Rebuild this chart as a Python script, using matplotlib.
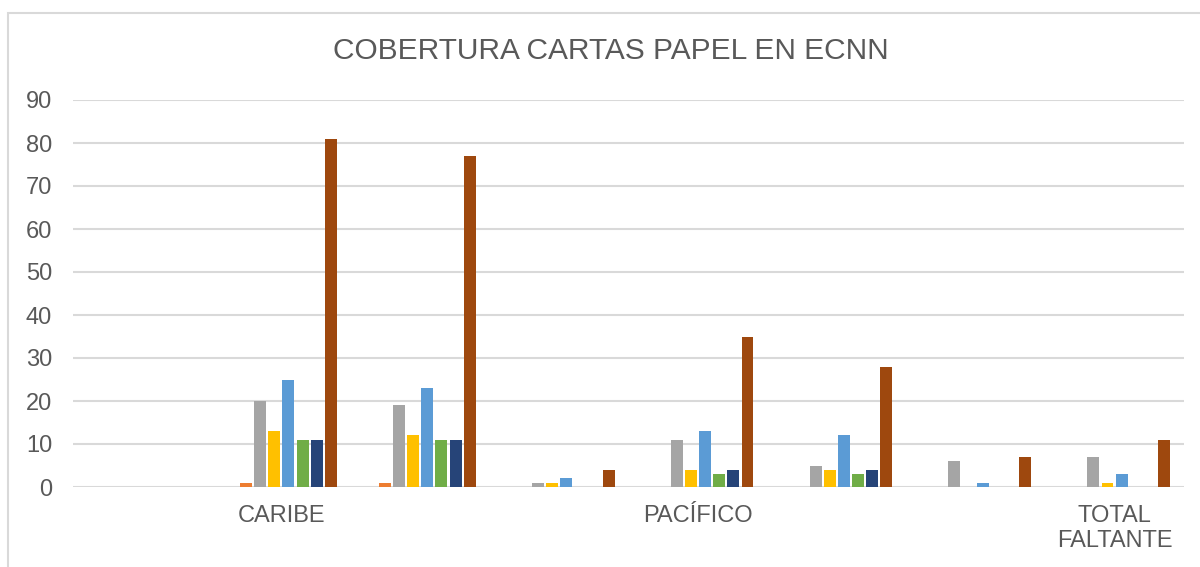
import matplotlib.pyplot as plt
import matplotlib.patches as mpatches
import numpy as np

# categories (Excel shows only every third label)
categories = ['', 'CARIBE', '', '', 'PACÍFICO', '', '', 'TOTAL\nFALTANTE']

series_names = ['Serie 1', 'Serie 2', 'Serie 3', 'Serie 4',
                'Serie 5', 'Serie 6', 'Serie 7', 'Serie 8']
serie_1 = [0, 0, 0, 0, 0, 0, 0, 0]
serie_2 = [0, 1, 1, 0, 0, 0, 0, 0]
serie_3 = [0, 20, 19, 1, 11, 5, 6, 7]
serie_4 = [0, 13, 12, 1, 4, 4, 0, 1]
serie_5 = [0, 25, 23, 2, 13, 12, 1, 3]
serie_6 = [0, 11, 11, 0, 3, 3, 0, 0]
serie_7 = [0, 11, 11, 0, 4, 4, 0, 0]
serie_8 = [0, 81, 77, 4, 35, 28, 7, 11]
values = [serie_1, serie_2, serie_3, serie_4, serie_5, serie_6, serie_7, serie_8]

colors = ['#4472C4', '#ED7D31', '#A5A5A5', '#FFC000',
          '#5B9BD5', '#70AD47', '#264478', '#9E480E']

text_color = '#595959'
grid_color = '#D9D9D9'
plt.rcParams['font.family'] = ['Liberation Sans', 'DejaVu Sans']

fig = plt.figure(figsize=(12, 5.67), dpi=100)
ax = fig.add_axes([73 / 1200, 1 - 487 / 567, (1184 - 73) / 1200, (487 - 100) / 567])

x = np.arange(len(categories))
n = len(series_names)
slot = 1 / (n + 1.8)
for j, (name, vals, c) in enumerate(zip(series_names, values, colors)):
    ax.bar(x + (j - (n - 1) / 2) * slot, vals, width=slot * 0.84,
           color=c, label=name, zorder=3)

ax.set_xlim(-0.5, len(categories) - 0.5)
ax.set_ylim(0, 90)
ax.set_yticks(range(0, 91, 10))
ax.set_xticks(x)
ax.set_xticklabels(categories, fontsize=17, color=text_color, linespacing=1.15)
ax.tick_params(axis='x', length=0, pad=13)
ax.tick_params(axis='y', length=0, pad=15, labelsize=17, labelcolor=text_color)
ax.grid(axis='y', color=grid_color, linewidth=1.5, zorder=0)
for s in ax.spines.values():
    s.set_visible(False)

fig.text(0.5 + 11 / 1200, 1 - 51 / 567, 'COBERTURA CARTAS PAPEL EN ECNN', ha='center',
         va='center', fontsize=21.5, color=text_color)

# chart border
fig.patches.append(mpatches.Rectangle((8 / 1200, -0.1), 1.2, 1 - 13 / 567 + 0.1,
                                      transform=fig.transFigure, fill=False,
                                      edgecolor=grid_color, linewidth=1.5))

plt.savefig('out.png', dpi=100)
